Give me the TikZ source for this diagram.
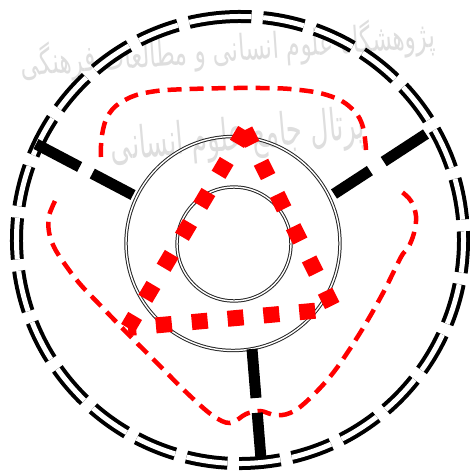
\documentclass[tikz,border=0pt]{standalone}
\usepackage{fontspec}
\usepackage{graphicx}
\usetikzlibrary{calc}
\newfontfamily\arabicfont[Script=Arabic]{DejaVu Sans}
\TeXXeTstate=1

\newcommand\RingR{223.5}
\newcommand\HubR{107}
\newcommand\CoreR{57}

\tikzset{
  ring/.style={
    draw = black,
    line width = 4pt,
    double = white,
    double distance = 5pt,
    dash pattern = on 41.5pt off 11.7pt
  },
  hub/.style={
    draw = black!85,
    line width = 1pt,
    double = white,
    double distance = 1.4pt
  },
  spoke/.style={
    draw = black,
    line width = 11pt
  },
  flow/.style={
    draw = red,
    line width = 4.5pt,
    dash pattern = on 14pt off 8pt
  },
  dotline/.style={
    draw = red,
    line width = 16pt,
    dash pattern = on 16pt off 20pt
  },
  watermark/.style={
    text = black!13,
    inner sep = 0pt
  }
}

\begin{document}
\begin{tikzpicture}[x=1pt, y=-1pt]
  \useasboundingbox (0,0) rectangle (470,476);
  % watermark
  \node[watermark, rotate=4] (wmTop) at (228,50) {\resizebox{415pt}{32pt}{\arabicfont\beginR پژوهشگاه علوم انسانی و مطالعات فرهنگی\endR}};
  \node[watermark, rotate=5] (wmBot) at (238,138) {\resizebox{255pt}{34pt}{\arabicfont\beginR پرتال جامع علوم انسانی\endR}};

  \coordinate (ringc) at (240,240);
  \coordinate (hubc) at (233,243.5);
  \coordinate (corec) at (234,244);

  % outer ring
  \draw[ring] ($(ringc)+(262.3:\RingR)$) arc[start angle=262.3, delta angle=360, radius=\RingR];

  % hub circles
  \draw[hub] (hubc) circle[radius=\HubR];
  \draw[hub] (corec) circle[radius=\CoreR];

  % red dashed loop
  \draw[flow] plot[smooth, tension=0.7] coordinates {(101,157) (102,135) (109,114) (125,100) (150,92) (190,89) (260,88) (300,90) (330,96) (350,107) (362,124) (366,150)};
  \draw[flow] plot[smooth, tension=0.6] coordinates {(55,201) (49,216) (49,232) (54,247) (64,263) (80,284) (100,305) (127,333) (157,363) (187,393) (212,415) (230,423) (246,414) (260,411) (275,415) (290,413) (307,401) (333,373) (360,333) (383,293) (401,257) (408,248) (414,233) (416,216) (411,201) (402,192)};

  % dotted triangle
  \coordinate (tT) at (245,130);
  \coordinate (tL) at (128,328);
  \coordinate (tR) at (334,309);
  \draw[dotline] (tT) -- (tL);
  \draw[dotline] (tT) -- (tR);
  \draw[dotline, dash phase=8pt] (tL) -- (tR);

  % spokes
  \coordinate (ulA) at (133,195);
  \coordinate (ulB) at (36,144);
  \draw[spoke] (ulA) -- ($(ulA)!0.42!(ulB)$);
  \draw[spoke] ($(ulA)!0.55!(ulB)$) -- (ulB);
  \coordinate (urA) at (334,194);
  \coordinate (urB) at (426,134);
  \draw[spoke] (urA) -- ($(urA)!0.39!(urB)$);
  \draw[spoke] ($(urA)!0.54!(urB)$) -- (urB);
  \coordinate (dnA) at (252,349);
  \coordinate (dnB) at (261,459);
  \draw[spoke] (dnA) -- ($(dnA)!0.445!(dnB)$);
  \draw[spoke] ($(dnA)!0.58!(dnB)$) -- (dnB);
\end{tikzpicture}
\end{document}
